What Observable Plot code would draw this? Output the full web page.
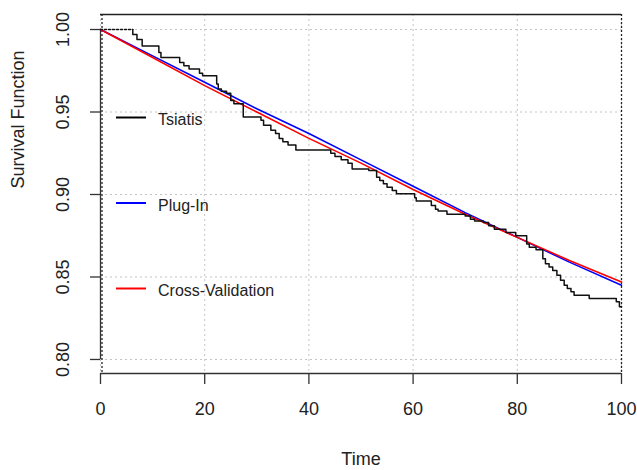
<!DOCTYPE html>
<html><head><meta charset="utf-8">
<script src="https://cdn.jsdelivr.net/npm/d3@7"></script>
<script src="https://cdn.jsdelivr.net/npm/@observablehq/plot@0.6"></script>
<style>body{margin:0;background:#fff;} #chart{width:637px;height:470px;}</style>
</head><body><div id="chart"></div>
<script>
const tsTime = [0, 6.2, 7.0, 8.0, 11.2, 11.6, 15.2, 16.0, 17.0, 19.0, 19.6, 22.3, 22.6, 23.2, 24.2, 25.0, 25.6, 27.4, 30.8, 31.3, 32.7, 33.6, 34.3, 35.0, 36.0, 37.5, 44.2, 45.0, 46.2, 47.5, 48.3, 51.5, 53.0, 53.6, 54.3, 55.0, 56.0, 56.8, 60.3, 60.6, 63.5, 64.3, 64.8, 66.5, 70.0, 71.0, 71.8, 73.5, 74.5, 75.6, 77.8, 79.7, 81.8, 82.3, 83.6, 84.9, 85.4, 86.1, 86.8, 87.6, 88.3, 89.0, 89.6, 90.3, 90.9, 93.8, 99.0, 99.6, 100];
const tsSurv = [1.000, 0.997, 0.994, 0.990, 0.986, 0.983, 0.980, 0.978, 0.976, 0.9735, 0.972, 0.967, 0.964, 0.9626, 0.9614, 0.957, 0.955, 0.947, 0.945, 0.942, 0.939, 0.937, 0.934, 0.932, 0.930, 0.927, 0.925, 0.923, 0.921, 0.919, 0.9155, 0.9145, 0.9105, 0.9085, 0.9065, 0.9044, 0.9024, 0.9004, 0.898, 0.896, 0.8933, 0.891, 0.890, 0.888, 0.887, 0.885, 0.884, 0.883, 0.881, 0.879, 0.877, 0.875, 0.870, 0.868, 0.8665, 0.861, 0.858, 0.856, 0.854, 0.851, 0.848, 0.845, 0.843, 0.841, 0.839, 0.837, 0.835, 0.832, 0.832];
const fitTime = [0, 10, 20, 30, 40, 50, 60, 70, 80, 90, 100];
const plugIn = [1.000, 0.984, 0.968, 0.952, 0.937, 0.921, 0.905, 0.889, 0.874, 0.859, 0.845];
const crossVal = [1.000, 0.983, 0.966, 0.950, 0.934, 0.919, 0.903, 0.888, 0.874, 0.860, 0.847];
const xTicks = [0, 20, 40, 60, 80, 100];
const yTicks = [0.80, 0.85, 0.90, 0.95, 1.00];
const legendLabels = ["Tsiatis", "Plug-In", "Cross-Validation"];
const legendColors = ["black", "blue", "red"];

const ts = tsTime.map((t, i) => ({t, s: tsSurv[i], i}));
const tsSolid = ts.map((d, i) => ({t: i === 0 ? tsTime[1] : d.t, s: d.s}));
const tsDotted = ts.slice(0, 2).map(d => ({t: d.t, s: tsSurv[0]}));
const fits = fitTime.flatMap((t, i) => [
  {t, s: plugIn[i], m: "Plug-In"},
  {t, s: crossVal[i], m: "Cross-Validation"}
]);

const yMin = 0.7915, yMax = 1.0091;
const font = "'Liberation Sans', Arial, sans-serif";

const plot = Plot.plot({
  width: 637, height: 470,
  marginLeft: 100, marginRight: 16, marginTop: 14, marginBottom: 97,
  style: {fontFamily: font, fontSize: "18px", background: "white", color: "#222", overflow: "visible"},
  x: {domain: [0, 100], axis: null},
  y: {domain: [yMin, yMax], axis: null},
  marks: [
    Plot.gridX(xTicks, {stroke: "#c4c4c4", strokeOpacity: 1, strokeDasharray: "2,3"}),
    Plot.gridY(yTicks, {stroke: "#c4c4c4", strokeOpacity: 1, strokeDasharray: "2,3"}),
    Plot.ruleY([yMax], {stroke: "#222", strokeWidth: 1.3}),
    Plot.ruleX([0], {stroke: "#222", strokeDasharray: "2,2", strokeWidth: 1.3, dx: 1.5}),
    Plot.ruleX([100], {stroke: "#222", strokeDasharray: "2,2", strokeWidth: 1.3}),
    Plot.ruleY([yMin], {x1: 0, x2: 100, stroke: "#333", strokeWidth: 1.3}),
    Plot.ruleX([0], {y1: yTicks[0], y2: yTicks[yTicks.length - 1], stroke: "#333", strokeWidth: 1.3}),
    Plot.axisX(xTicks, {tickSize: 11, tickPadding: 18, stroke: "#333", fill: "#222", fontSize: 18, label: null, strokeWidth: 1.3}),
    Plot.axisY(yTicks, {tickSize: 10, tickFormat: () => "", stroke: "#333", label: null, strokeWidth: 1.3}),
    Plot.text(yTicks, {x: 0, y: d => d, text: d => d3.format(".2f")(d), rotate: -90, dx: -37, textAnchor: "middle", lineAnchor: "middle", fontSize: 18, fill: "#222"}),
    Plot.line(fits, {x: "t", y: "s", z: "m", stroke: d => d.m === "Plug-In" ? "blue" : "red", strokeWidth: 1.6}),
    Plot.line(tsDotted, {x: "t", y: "s", stroke: "#111", strokeWidth: 1.5, strokeDasharray: "2,2"}),
    Plot.line(tsSolid, {x: "t", y: "s", curve: "step-after", stroke: "#111", strokeWidth: 1.5}),
    Plot.text(["Time"], {frameAnchor: "bottom", dy: 86, lineAnchor: "middle", fontSize: 18, fill: "#222"}),
    Plot.text(["Survival Function"], {frameAnchor: "left", dx: -82.5, dy: -5.5, rotate: -90, lineAnchor: "middle", fontSize: 18, fill: "#222"})
  ]
});

document.getElementById("chart").appendChild(plot);

// legend
const svg = d3.select(plot);
const legendY = [117.5, 203, 288.5];
const lg = svg.append("g").attr("font-family", font).attr("font-size", 16).attr("text-anchor", "start");
legendLabels.forEach((lab, i) => {
  lg.append("line").attr("x1", 116).attr("x2", 146).attr("y1", legendY[i]).attr("y2", legendY[i])
    .attr("stroke", legendColors[i]).attr("stroke-width", 2);
  lg.append("text").attr("x", 158).attr("y", legendY[i] + 7.5).attr("text-anchor", "start").attr("fill", "#222").text(lab);
});
</script>
</body></html>
